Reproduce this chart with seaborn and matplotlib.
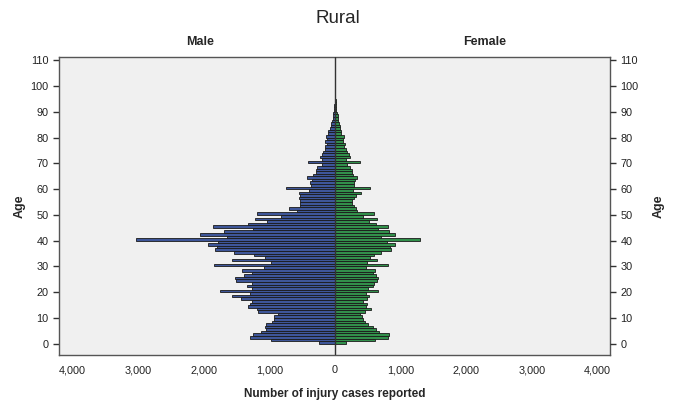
import numpy as np
import pandas as pd
import seaborn as sns
import matplotlib.pyplot as plt
from matplotlib.ticker import FuncFormatter

# single-year age groups 0..95
ages = list(range(0, 96))

male = [240, 975, 1300, 1250, 1135, 1050, 1070, 1060, 960, 935,
        925, 865, 1175, 1185, 1320, 1290, 1270, 1440, 1575, 1290,
        1760, 1270, 1340, 1270, 1515, 1525, 1390, 1260, 1415, 1085,
        1845, 975, 1575, 1070, 1240, 1540, 1835, 1800, 1930, 1780,
        3040, 1650, 2055, 1690, 1250, 1855, 1320, 1035, 1220, 820,
        1195, 580, 705, 540, 530, 530, 555, 540, 555, 395,
        750, 360, 375, 346, 433, 341, 295, 295, 280, 204,
        417, 204, 229, 193, 178, 153, 153, 127, 153, 127,
        137, 102, 102, 76, 66, 61, 51, 36, 36, 25,
        15, 12, 10, 8, 5, 4]

female = [167, 606, 808, 823, 672, 621, 570, 505, 455, 430,
          414, 379, 455, 540, 470, 480, 430, 490, 520, 470,
          656, 505, 570, 590, 631, 656, 621, 580, 606, 465,
          808, 480, 631, 530, 590, 692, 858, 833, 909, 793,
          1298, 692, 909, 823, 656, 808, 616, 520, 641, 430,
          596, 328, 318, 288, 253, 253, 288, 318, 389, 278,
          534, 280, 290, 305, 330, 270, 255, 255, 229, 188,
          382, 168, 229, 204, 178, 168, 137, 153, 117, 117,
          137, 87, 87, 76, 76, 66, 51, 51, 41, 25,
          20, 15, 10, 8, 6, 4]

sexes = ['Male', 'Female']
colors = {'Male': '#2f4fa8', 'Female': '#22a043'}
age_ticks = list(range(0, 111, 10))

sns.set_style('white')
plt.rcParams['font.family'] = ['Liberation Sans', 'DejaVu Sans']

# long table, males on the negative side
df = pd.DataFrame({
    'age': ages * 2,
    'cases': [-v for v in male] + female,
    'sex': ['Male'] * len(ages) + ['Female'] * len(ages),
})
df['mid'] = df['age'] + 0.5  # each bar spans [age, age + 1)

fig = plt.figure(figsize=(6.75, 4.01), dpi=100)
ax = fig.add_axes([0.087, 0.115, 0.817, 0.743])
ax.set_facecolor('#f0f0f0')

sns.barplot(data=df, x='cases', y='mid', hue='sex', orient='y',
            native_scale=True, width=1, dodge=False, palette=colors,
            edgecolor='#1a1a1a', linewidth=0.6, errorbar=None,
            legend=False, ax=ax)

ax.axvline(0, color='#333333', lw=1, zorder=3)

ax.set_xlim(-4210, 4190)
ax.set_ylim(-4.3, 111.3)
ax.set_xticks([-4000, -3000, -2000, -1000, 0, 1000, 2000, 3000, 4000])
ax.xaxis.set_major_formatter(FuncFormatter(lambda v, _: f'{abs(v):,.0f}'))
ax.set_yticks(age_ticks)

ax.tick_params(axis='both', direction='out', length=4, width=1,
               labelsize=7.8, colors='#333333', labelcolor='#222222')
for s in ax.spines.values():
    s.set_color('#555555')
    s.set_linewidth(1)

ax.set_xlabel('Number of injury cases reported', fontsize=8.5,
              fontweight='bold', labelpad=9)
ax.set_ylabel('Age', fontsize=9, fontweight='bold', labelpad=3)

# right-hand age axis
ax2 = ax.twinx()
ax2.set_ylim(ax.get_ylim())
ax2.set_yticks(age_ticks)
ax2.tick_params(axis='y', direction='out', length=4, width=1,
                labelsize=7.8, colors='#333333', labelcolor='#222222')
for s in ax2.spines.values():
    s.set_visible(False)
ax2.set_ylabel('Age', fontsize=9, fontweight='bold', labelpad=10)

fig.text(0.5, 0.955, 'Rural', ha='center', va='center', fontsize=13.5)
fig.text(0.296, 0.895, 'Male', ha='center', va='center', fontsize=9,
         fontweight='bold')
fig.text(0.718, 0.895, 'Female', ha='center', va='center', fontsize=9,
         fontweight='bold')

fig.savefig('out.png', dpi=100, facecolor='white')
